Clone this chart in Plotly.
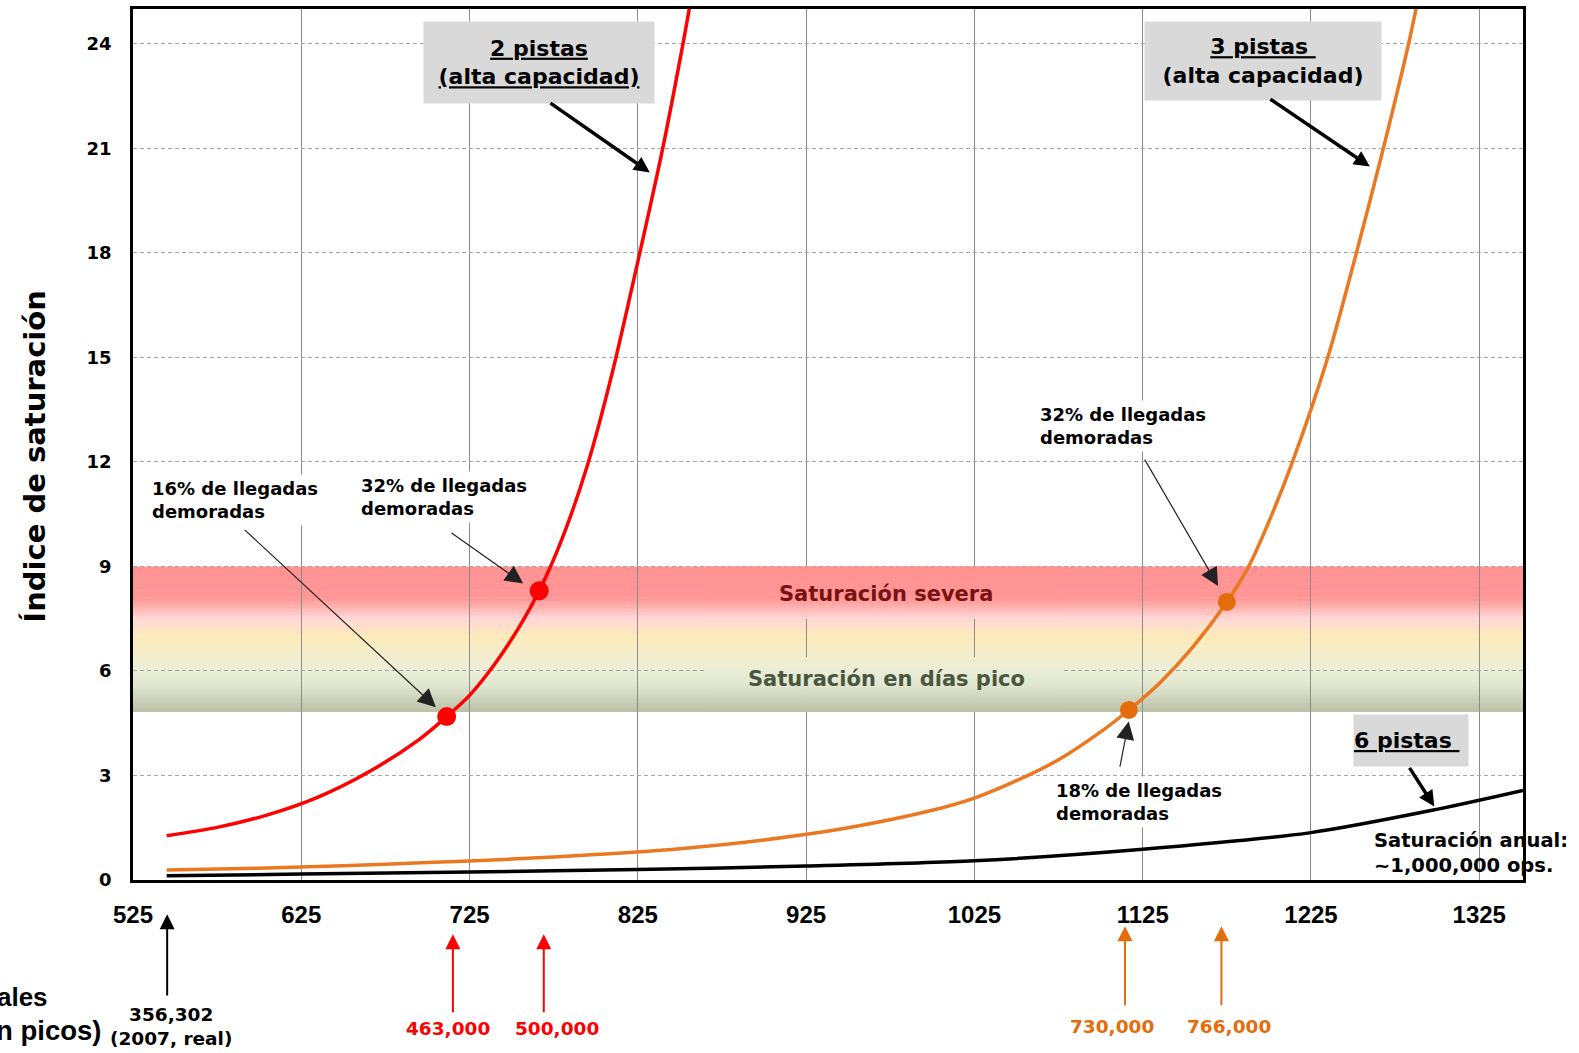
import plotly.graph_objects as go

# ---------------- data ----------------
x_ticks = [525, 625, 725, 825, 925, 1025, 1125, 1225, 1325]
y_ticks = [0, 3, 6, 9, 12, 15, 18, 21, 24]

red_x = [545, 575, 605, 635, 665, 695, 711.4, 725, 740, 755, 766.4, 780, 795, 810, 825, 840, 852, 857]
red_y = [1.27, 1.51, 1.87, 2.38, 3.1, 4.03, 4.69, 5.3, 6.2, 7.3, 8.3, 9.8, 11.9, 14.6, 17.75, 21.05, 24.05, 25.4]

orange_x = [545, 600, 650, 700, 750, 800, 850, 900, 950, 1000, 1025, 1050, 1075, 1100, 1116.8,
            1135, 1155, 1175, 1188, 1201, 1214, 1235, 1252, 1268, 1283, 1290]
orange_y = [0.29, 0.34, 0.41, 0.5, 0.6, 0.73, 0.9, 1.15, 1.5, 2.0, 2.35, 2.85, 3.45, 4.25, 4.88,
            5.65, 6.7, 7.98, 9.0, 10.4, 12, 15, 18, 21, 24, 25.6]

black_x = [545, 625, 725, 825, 925, 1025, 1125, 1225, 1297, 1351]
black_y = [0.12, 0.17, 0.23, 0.3, 0.4, 0.55, 0.88, 1.36, 2.0, 2.57]

red_pts_x = [711.4, 766.4]
red_pts_y = [4.69, 8.30]
orange_pts_x = [1116.8, 1175.0]
orange_pts_y = [4.88, 7.98]

band_bottom, band_top = 4.82, 9.0

# operations marked below the x axis
ref_x = [545.3]
red_arrow_x = [715.1, 769.1]
orange_arrow_x = [1114.5, 1171.8]
red_labels = ["463,000", "500,000"]
orange_labels = ["730,000", "766,000"]

# ---------------- styles ----------------
RED = "#FF0000"
ORANGE = "#EB7820"
ORANGE_DOT = "#E46C0A"
WIDE = "DejaVu Sans"
ARIAL = "Liberation Sans"

band_stops = [
    (4.82, (188, 194, 168)),
    (5.0, (195, 200, 176)),
    (5.6, (224, 230, 208)),
    (6.0, (234, 238, 215)),
    (6.5, (244, 237, 202)),
    (7.0, (253, 233, 185)),
    (7.5, (255, 216, 214)),
    (7.85, (255, 175, 172)),
    (8.1, (255, 150, 150)),
    (9.0, (255, 145, 145)),
]


def band_color(y):
    for (y0, c0), (y1, c1) in zip(band_stops[:-1], band_stops[1:]):
        if y0 <= y <= y1:
            t = (y - y0) / (y1 - y0)
            c = [round(a + (b - a) * t) for a, b in zip(c0, c1)]
            return "rgb(%d,%d,%d)" % tuple(c)
    return "rgb(255,145,145)"


def gradient_strips(x0, x1, y0, y1, xref, layer, n):
    out = []
    h = (y1 - y0) / n
    for i in range(n):
        a = y0 + i * h
        b = a + h
        out.append(dict(type="rect", xref=xref, yref="y", x0=x0, x1=x1,
                        y0=a, y1=min(b + h * 0.3, y1), layer=layer,
                        fillcolor=band_color((a + b) / 2), line=dict(width=0)))
    return out


fig = go.Figure()

line_kw = dict(width=3.5, shape="spline", smoothing=0.8)
fig.add_trace(go.Scatter(x=black_x, y=black_y, mode="lines",
                         line=dict(color="black", **line_kw), hoverinfo="skip"))
fig.add_trace(go.Scatter(x=orange_x, y=orange_y, mode="lines",
                         line=dict(color=ORANGE, **line_kw), hoverinfo="skip"))
fig.add_trace(go.Scatter(x=red_x, y=red_y, mode="lines",
                         line=dict(color=RED, **line_kw), hoverinfo="skip"))
fig.add_trace(go.Scatter(x=red_pts_x, y=red_pts_y, mode="markers",
                         marker=dict(color=RED, size=19), hoverinfo="skip"))
fig.add_trace(go.Scatter(x=orange_pts_x, y=orange_pts_y, mode="markers",
                         marker=dict(color=ORANGE_DOT, size=18), hoverinfo="skip"))

shapes = []
shapes += gradient_strips(0, 1, band_bottom, band_top, "paper", "below", 84)
# patches behind the band labels (hide the grid there)
shapes += gradient_strips(865, 1077.4, 7.5, band_top, "x", "between", 30)
shapes += gradient_strips(865, 1077.4, band_bottom, 6.39, "x", "between", 32)

ann = []


def label(text, x, y, size, color="black", xanchor="center", yanchor="middle",
          xref="x", yref="y", family=WIDE, bg=None, align="left", **kw):
    d = dict(text=text, x=x, y=y, xref=xref, yref=yref, showarrow=False,
             xanchor=xanchor, yanchor=yanchor, align=align,
             font=dict(family=family, size=size, color=color, weight="bold"))
    if bg:
        d.update(bgcolor=bg, borderpad=3)
    d.update(kw)
    ann.append(d)


def arrow(xh, yh, xt, yt, width, color="black", size=1.0, head=2):
    ann.append(dict(text="", x=xh, y=yh, ax=xt, ay=yt, xref="x", yref="y",
                    axref="x", ayref="y", showarrow=True, arrowhead=head,
                    arrowsize=size, arrowwidth=width, arrowcolor=color))


def up_arrow(x, y_tip_px, y_tail_px, color):
    # y positions given in figure pixels, converted to paper coords
    ann.append(dict(text="", x=x, y=(880 - y_tip_px) / 874, xref="x", yref="paper",
                    ax=0, ay=y_tail_px - y_tip_px, axref="pixel", ayref="pixel",
                    showarrow=True, arrowhead=2, arrowsize=1.5, arrowwidth=2,
                    arrowcolor=color))


# boxes with series names
label("<u>2 pistas</u><br><u>(alta capacidad)</u>", 766.2, 23.46, 22, bg="#D9D9D9",
      align="center", width=230, height=81)
label("<u>3 pistas </u><br>(alta capacidad)", 1196.7, 23.5, 22, bg="#D9D9D9",
      align="center", width=236, height=78)
label("<u>6 pistas </u>", 1284.5, 4.0, 22, bg="#D9D9D9", align="left", width=114, height=51)
for a in ann[-3:]:
    a["borderpad"] = 0

arrow(832.1, 20.31, 772.2, 22.33, 3.5, size=0.9)
arrow(1260.0, 20.48, 1200.0, 22.44, 3.5, size=0.9)
arrow(1298.3, 2.11, 1283.0, 3.26, 3.5, size=0.9)

# delay annotations
label("16% de llegadas<br>demoradas", 533.8, 10.91, 18, xanchor="left", bg="white")
label("32% de llegadas<br>demoradas", 658.0, 10.99, 18, xanchor="left", bg="white")
label("32% de llegadas<br>demoradas", 1061.4, 13.03, 18, xanchor="left", bg="white")
label("18% de llegadas<br>demoradas", 1071.0, 2.23, 18, xanchor="left", bg="white")

arrow(705.0, 4.96, 590.5, 10.09, 1.2, color="#222222", size=3)
arrow(756.9, 8.51, 713.4, 9.99, 1.2, color="#222222", size=3)
arrow(1169.8, 8.44, 1125.7, 12.11, 1.2, color="#222222", size=3)
arrow(1116.7, 4.55, 1111.3, 3.21, 1.2, color="#222222", size=3)

label("Saturación anual:<br>~1,000,000 ops.", 1261.0, 0.77, 19.5, xanchor="left")

# band labels
label("Saturación severa", 972.6, 8.21, 21, color="#7A1212")
label("Saturación en días pico", 972.6, 5.76, 21, color="#4B5540")

# below-axis arrows and labels
up_arrow(ref_x[0], 914.4, 997, "black")
for xv in red_arrow_x:
    up_arrow(xv, 934.5, 1014, RED)
for xv in orange_arrow_x:
    up_arrow(xv, 926.4, 1007, ORANGE_DOT)

label("356,302<br>(2007, real)", 547.6, (880 - 1027) / 874, 18.5, yref="paper", align="center")
for txt, xv in zip(red_labels, [712.2, 776.9]):
    label(txt, xv, (880 - 1029) / 874, 18.5, color=RED, yref="paper")
for txt, xv in zip(orange_labels, [1106.5, 1176.5]):
    label(txt, xv, (880 - 1027) / 874, 18.5, color=ORANGE_DOT, yref="paper")

# left-hand texts (partly outside the page, as in the original)
label("Operaciones anuales", (50 - 133) / 1390, (880 - 997) / 874, 26, xref="paper",
      yref="paper", xanchor="right", family=ARIAL)
label("(sin picos)", (104 - 133) / 1390, (880 - 1031) / 874, 27.5, xref="paper",
      yref="paper", xanchor="right", family=ARIAL)

# y axis title
label("Índice de saturación", (35.2 - 133) / 1390, (880 - 455) / 874, 29, xref="paper",
      yref="paper", textangle=-90)

fig.update_layout(
    width=1579, height=1053,
    margin=dict(l=133, r=56, t=6, b=173),
    paper_bgcolor="white", plot_bgcolor="white",
    showlegend=False,
    hovermode=False,
    shapes=shapes,
    annotations=ann,
    xaxis=dict(range=[525, 1351], tickvals=x_ticks, ticktext=[str(v) for v in x_ticks],
               showgrid=True, gridcolor="#8C8C8C", gridwidth=1, zeroline=False,
               showline=True, linecolor="black", linewidth=2.5, mirror=True,
               ticks="", ticklabelstandoff=11,
               tickfont=dict(family=ARIAL, size=24, color="black", weight="bold")),
    yaxis=dict(range=[0, 25], tickvals=y_ticks, ticktext=[str(v) for v in y_ticks],
               showgrid=True, gridcolor="#A6A6A6", gridwidth=1, griddash="4px,3px",
               zeroline=False,
               showline=True, linecolor="black", linewidth=2.5, mirror=True,
               ticks="", ticklabelstandoff=15,
               tickfont=dict(family=WIDE, size=18, color="black", weight="bold")),
)

fig.write_html("out.html", config={"displayModeBar": False},
               post_script="document.body.style.margin='0px';")
